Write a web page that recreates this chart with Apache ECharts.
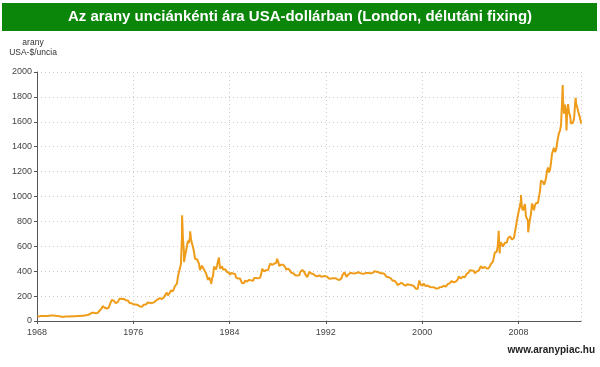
<!DOCTYPE html>
<html><head><meta charset="utf-8">
<script src="https://cdn.jsdelivr.net/npm/echarts@6/dist/echarts.min.js"></script>
<style>html,body{margin:0;padding:0;background:#fff}#c{width:600px;height:367px}</style>
</head><body><div id="c"></div>
<script>
const titleText = 'Az arany unciánkénti ára USA-dollárban (London, délutáni fixing)';
const yName = 'arany\nUSA-$/uncia';
const source = 'www.aranypiac.hu';
const xTicks = [1968, 1976, 1984, 1992, 2000, 2008];
const yTicks = [0, 200, 400, 600, 800, 1000, 1200, 1400, 1600, 1800, 2000];
const startYear = 1968;
// monthly average prices, USD/oz, from Jan 1968
const monthly = [
35.2,35.2,37.5,38.0,41.0,41.1,39.5,39.3,39.5,39.4,40.5,41.9,
42.5,42.5,43.4,43.3,43.5,41.2,41.8,41.0,40.5,40.2,37.4,35.2,
34.9,35.0,35.1,35.6,35.9,35.4,35.3,35.4,36.2,37.5,37.4,37.4,
37.9,38.7,38.9,39.0,40.5,40.1,41.0,42.7,42.0,42.5,42.9,43.5,
45.8,48.3,48.3,49.0,54.6,62.1,65.7,67.0,65.5,64.9,62.9,63.9,
65.1,74.2,84.4,90.5,102.0,120.1,120.2,106.8,103.0,100.1,94.8,106.7,
129.2,150.2,168.4,172.2,163.3,154.1,143.0,154.6,151.8,158.8,181.7,183.9,
176.3,179.6,178.2,170.2,167.4,164.2,165.2,163.1,144.0,142.8,142.8,139.3,
131.6,131.0,132.6,128.2,128.6,125.6,117.6,109.3,114.1,116.0,130.6,133.6,
132.3,136.1,148.2,149.1,146.6,140.8,143.4,145.0,149.4,159.3,162.6,160.5,
173.2,178.2,183.7,175.1,176.3,183.7,188.7,206.1,212.5,227.3,206.0,207.8,
227.3,245.7,242.1,239.2,257.6,279.1,294.7,300.8,355.2,391.7,392.5,455.1,
675.3,665.3,553.6,517.4,513.8,600.7,644.3,626.5,673.6,661.1,623.5,594.9,
557.6,500.4,499.8,495.8,479.7,460.8,409.3,410.2,443.6,437.8,413.4,410.1,
384.2,374.1,330.3,350.5,333.5,314.9,339.1,364.1,436.2,422.9,414.5,444.5,
481.3,491.0,420.2,432.8,438.4,413.0,422.3,416.2,411.3,394.0,381.7,388.0,
370.2,386.5,394.4,381.3,377.6,378.1,347.8,347.6,341.1,340.1,341.2,320.2,
303.0,298.4,304.3,324.9,316.6,316.8,317.4,330.2,323.6,326.4,325.3,322.4,
345.4,339.0,346.4,340.4,342.5,342.8,348.7,376.5,418.5,423.4,398.1,391.3,
408.3,401.1,408.9,438.3,460.2,449.6,450.4,460.8,460.0,465.3,467.2,486.1,
477.8,442.1,443.6,452.2,451.1,451.5,437.6,431.9,413.1,406.6,420.3,418.7,
404.0,387.8,390.2,384.3,371.1,367.7,375.0,365.4,362.0,366.7,394.3,409.7,
410.1,416.8,393.1,374.2,369.0,352.4,362.5,394.7,389.2,380.8,381.6,378.2,
383.6,363.8,363.3,358.4,357.4,366.7,367.7,356.2,348.7,358.6,359.8,361.1,
354.5,353.9,344.3,338.6,337.2,340.8,353.0,342.9,345.3,344.4,335.0,334.7,
329.0,329.3,330.1,342.2,367.2,371.9,392.0,378.9,355.3,364.2,373.8,383.3,
386.9,381.9,384.0,377.3,381.4,385.6,385.5,380.4,391.6,389.8,384.4,379.3,
378.6,376.5,382.1,391.0,385.2,387.6,386.2,383.7,383.1,383.1,386.0,387.4,
399.5,404.8,396.2,392.9,391.9,385.3,383.5,387.5,383.1,381.1,377.8,369.5,
355.0,346.6,351.9,344.5,343.8,340.8,324.1,324.0,322.8,324.9,306.0,288.7,
289.2,297.5,295.9,308.5,299.1,292.3,292.9,284.1,289.0,295.9,294.1,291.6,
287.1,287.2,285.9,282.6,276.4,261.3,256.2,256.7,264.7,310.7,293.2,283.1,
284.6,300.9,286.4,280.0,275.3,285.4,282.0,274.5,273.7,270.1,266.0,271.5,
265.5,261.9,263.0,260.5,272.4,270.2,267.5,272.4,283.4,283.1,276.2,275.9,
281.7,295.5,294.0,302.7,314.5,321.2,313.3,310.3,319.2,316.6,319.2,333.4,
356.9,359.0,340.6,328.2,355.7,356.4,351.0,359.8,378.9,378.9,389.9,407.6,
413.8,404.9,406.7,403.0,383.8,392.4,398.1,400.5,405.3,420.5,439.4,442.1,
424.0,423.4,434.2,428.9,421.9,430.7,424.5,437.9,456.0,469.9,476.7,510.1,
549.9,555.0,557.1,610.6,675.4,596.2,633.7,632.6,598.2,585.8,627.8,629.8,
631.2,664.8,654.9,679.4,666.9,655.5,665.3,665.4,712.7,754.6,806.3,803.2,
889.6,922.3,968.4,909.7,888.7,889.5,939.8,839.0,829.9,806.6,760.9,816.1,
858.7,943.2,924.3,890.2,928.6,945.7,934.2,949.4,996.6,1043.2,1127.0,1134.7,
1118.0,1095.4,1113.3,1148.7,1205.4,1232.9,1193.0,1215.8,1271.0,1342.0,1369.9,1390.6,
1356.4,1372.7,1424.0,1473.8,1510.4,1528.7,1572.8,1755.8,1771.9,1665.2,1739.0,1652.3,
1656.1,1742.6,1673.8,1650.1,1585.5,1596.7,1593.9,1626.0,1744.5,1746.6,1721.6,1684.8,
1670.0,1627.6,1585.0
];
// notable daily fixes (extremes)
const dailyDates = ['1974-12-30','1976-08-25','1980-01-21','1980-03-18','1980-09-22','1982-06-21','1983-02-15','1987-12-14','1999-10-05','2006-05-12','2006-06-14','2008-03-17','2008-10-24','2011-09-05','2011-12-29','2012-10-04'];
const dailyPrices = [195.0,103.5,850.0,474.0,720.0,297.0,509.0,499.8,325.5,725.0,543.0,1011.3,712.5,1895.0,1531.0,1791.8];

function decYear(s){const p=s.split('-').map(Number);return p[0]+(p[1]-1)/12+((p[2]||15)-1)/365;}
const pts = monthly.map((v,i)=>[startYear+Math.floor(i/12)+((i%12)+0.5)/12, v]);
dailyDates.forEach((d,i)=>pts.push([decYear(d), dailyPrices[i]]));
pts.sort((a,b)=>a[0]-b[0]);

const chart = echarts.init(document.getElementById('c'));
const lblFont = {fontFamily:'Arial, Liberation Sans, sans-serif', fontSize:9, color:'#444'};
chart.setOption({
  animation:false,
  backgroundColor:'#fff',
  graphic:[
    {type:'rect', shape:{x:2,y:3,width:595,height:28}, style:{fill:'#0B860B'}},
    {type:'text', x:300, y:17, style:{text:titleText, fill:'#fff', font:'bold 15px Arial, "Liberation Sans", sans-serif', textAlign:'center', textVerticalAlign:'middle'}},
    {type:'text', x:33, y:48, style:{text:yName, fill:'#333', font:'8.5px Arial, "Liberation Sans", sans-serif', textAlign:'center', textVerticalAlign:'middle', lineHeight:10}},
    {type:'text', x:595, y:350, style:{text:source, fill:'#222', font:'bold 10px Arial, "Liberation Sans", sans-serif', textAlign:'right', textVerticalAlign:'middle'}}
  ],
  grid:{left:37, right:19, top:72, bottom:46},
  xAxis:{type:'value', min:1968, max:2013.2, interval:8,
    axisLine:{lineStyle:{color:'#555', width:1}},
    axisTick:{show:true, length:3, lineStyle:{color:'#555'}},
    axisLabel:Object.assign({margin:7, showMaxLabel:false, formatter:v=>xTicks.includes(v)?String(v):''}, lblFont),
    splitLine:{show:true, lineStyle:{color:'#ccc', type:[1,3]}}},
  yAxis:{type:'value', min:0, max:2000, interval:200,
    axisLine:{show:true, lineStyle:{color:'#555', width:1}},
    axisTick:{show:true, length:3, lineStyle:{color:'#555'}},
    axisLabel:Object.assign({margin:5, formatter:v=>yTicks.includes(v)?String(v):''}, lblFont),
    splitLine:{show:true, lineStyle:{color:'#ccc', type:[1,3]}}},
  series:[{type:'line', data:pts, showSymbol:false, symbol:'none',
    lineStyle:{color:'#EF9C1A', width:2}}]
});
</script></body></html>
